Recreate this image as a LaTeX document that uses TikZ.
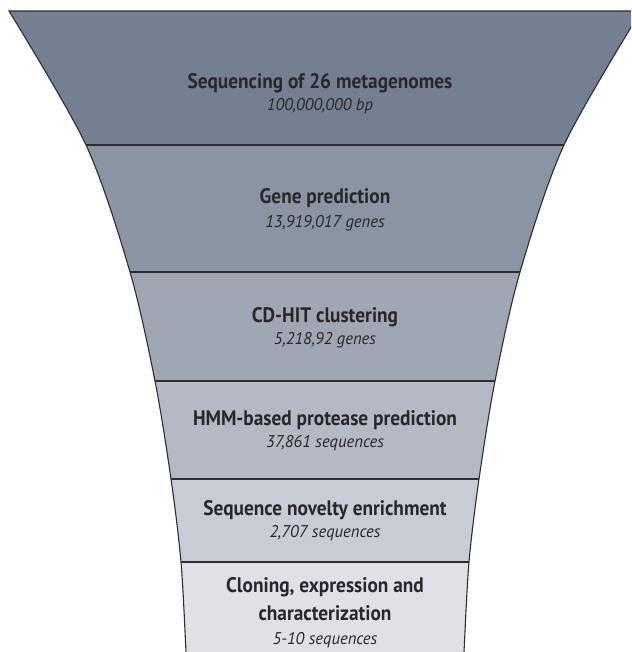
\documentclass[tikz,border=0pt]{standalone}
\usepackage{fontspec}
\setmainfont{PT Sans}
\newfontfamily\condfont[FakeStretch=0.92]{PT Sans}
\newfontfamily\subfont[FakeStretch=0.98]{PT Sans}
\definecolor{ink}{HTML}{2A2728}
\definecolor{edge}{HTML}{2E2E31}
\definecolor{bandA}{HTML}{747F91}
\definecolor{bandB}{HTML}{8B94A2}
\definecolor{bandC}{HTML}{A0A7B2}
\definecolor{bandD}{HTML}{B4B9C3}
\definecolor{bandE}{HTML}{C8CCD4}
\definecolor{bandF}{HTML}{DFE1E6}
\begin{document}
\begin{tikzpicture}[x=1pt,y=-1pt,
  title/.style={font=\condfont\bfseries\fontsize{21}{25}\selectfont, text=ink, anchor=base, inner sep=0pt},
  sub/.style={font=\subfont\itshape\fontsize{17}{20}\selectfont, text=ink, anchor=base, inner sep=0pt},
  divider/.style={draw=edge, line width=1.4pt},
  outline/.style={draw=edge, line width=1.1pt}]
\useasboundingbox (0,0) rectangle (631,652);
\clip (0,0) rectangle (631,652);
\def\funnel{plot[smooth] coordinates {(9,11) (86,145) (130,272) (155,381) (171,479) (181,562) (186,652) (188,700)} -- plot[smooth] coordinates {(462,700) (464,652) (469,562) (479,479) (495,381) (520,272) (564,145) (641,11)} -- cycle}
\begin{scope}
  \clip \funnel;
  \fill[bandA] (0,0) rectangle (700,145);
  \fill[bandB] (0,145) rectangle (700,272);
  \fill[bandC] (0,272) rectangle (700,381);
  \fill[bandD] (0,381) rectangle (700,479);
  \fill[bandE] (0,479) rectangle (700,562);
  \fill[bandF] (0,562) rectangle (700,720);
  \draw[divider] (0,145) -- (700,145);
  \draw[divider] (0,272) -- (700,272);
  \draw[divider] (0,381) -- (700,381);
  \draw[divider] (0,479) -- (700,479);
  \draw[divider] (0,562) -- (700,562);
\end{scope}
\draw[outline] \funnel;
\node[title] (t1) at (320,89) {Sequencing of 26 metagenomes};
\node[sub] (s1) at (320,111) {100,000,000 bp};
\node[title] (t2) at (325,204) {Gene prediction};
\node[sub] (s2) at (325,227) {13,919,017 genes};
\node[title] (t3) at (325,322) {CD-HIT clustering};
\node[sub] (s3) at (325,344) {5,218,92 genes};
\node[title] (t4) at (325,425) {HMM-based protease prediction};
\node[sub] (s4) at (325,447.5) {37,861 sequences};
\node[title] (t5) at (325,515.5) {Sequence novelty enrichment};
\node[sub] (s5) at (325,537.5) {2,707 sequences};
\node[title] (t6a) at (325,592.5) {Cloning, expression and};
\node[title] (t6b) at (325,620) {characterization};
\node[sub] (s6) at (325,644) {5-10 sequences};
\end{tikzpicture}
\end{document}
